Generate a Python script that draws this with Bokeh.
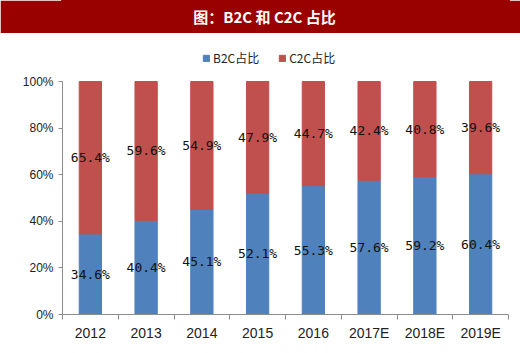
from bokeh.plotting import figure
from bokeh.models import (ColumnDataSource, Range1d, FixedTicker, PrintfTickFormatter,
                          Legend, LegendItem)
from bokeh.layouts import column
from bokeh.core.properties import value
from bokeh.embed import file_html
from bokeh.resources import INLINE

title = "图：B2C 和 C2C 占比"
categories = ["2012", "2013", "2014", "2015", "2016", "2017E", "2018E", "2019E"]
b2c = [34.6, 40.4, 45.1, 52.1, 55.3, 57.6, 59.2, 60.4]
c2c = [65.4, 59.6, 54.9, 47.9, 44.7, 42.4, 40.8, 39.6]
series_names = ["B2C占比", "C2C占比"]

BLUE = "#4F81BD"
RED = "#C0504D"
BAR_RED = "#990000"

xs = [i + 1 for i in range(len(categories))]
top_c2c = [b + c for b, c in zip(b2c, c2c)]
src = ColumnDataSource(dict(
    x=xs, b2c=b2c, c2c=c2c, top=top_c2c,
    ymid_b=[b / 2 for b in b2c],
    ymid_c=[b + c / 2 for b, c in zip(b2c, c2c)],
    lab_b=[f"{v:.1f}%" for v in b2c],
    lab_c=[f"{v:.1f}%" for v in c2c],
))

# title bar (frame aligned with the chart below, x in page pixels)
t = figure(width=520, height=33, x_range=Range1d(62, 508), y_range=Range1d(0, 33),
           toolbar_location=None, output_backend="svg",
           min_border_left=62, min_border_right=12,
           min_border_top=0, min_border_bottom=0,
           x_axis_location=None, y_axis_location=None,
           background_fill_color=BAR_RED, border_fill_color=BAR_RED,
           outline_line_color=BAR_RED, outline_line_width=3)
t.grid.visible = False
t.text(x=[264], y=[17.5], text=[title], text_color="white",
       text_font=value("Noto Sans CJK SC"), text_font_style="bold",
       text_font_size="15px", text_align="center", text_baseline="middle")

FRAME_H = 270          # pixels of frame
PLOT_H = 233           # pixels for 0..100%
y_top = 100 * FRAME_H / PLOT_H

p = figure(width=520, height=320, x_range=Range1d(0.5, 8.5), y_range=Range1d(0, y_top),
           toolbar_location=None, output_backend="svg",
           min_border_left=62, min_border_right=12, min_border_top=11,
           min_border_bottom=39, outline_line_color=None)
p.grid.visible = False

r_b = p.vbar(x="x", bottom=0, top="b2c", width=0.4, color=BLUE, source=src)
r_c = p.vbar(x="x", bottom="b2c", top="top", width=0.4, color=RED, source=src)

for col_y, col_t in (("ymid_b", "lab_b"), ("ymid_c", "lab_c")):
    p.text(x="x", y=col_y, text=col_t, source=src, text_align="center",
           text_baseline="middle", text_font=value("DejaVu Sans Mono"),
           text_font_size="13px", text_color="#111111")

axis_col = "#8C8C8C"
p.xaxis.ticker = FixedTicker(ticks=xs, minor_ticks=[x - 0.5 for x in xs] + [xs[-1] + 0.5])
p.xaxis.major_label_overrides = {x: c for x, c in zip(xs, categories)}
p.xaxis.major_tick_line_color = None
p.xaxis.minor_tick_in = 0
p.xaxis.minor_tick_out = 5
p.xaxis.minor_tick_line_color = axis_col
p.xaxis.axis_line_color = axis_col
p.xaxis.major_label_text_font_size = "14px"
p.xaxis.major_label_standoff = 4
p.xaxis.major_label_text_font = "Liberation Sans"
p.xaxis.major_label_text_color = "#222222"

p.yaxis.ticker = FixedTicker(ticks=[0, 20, 40, 60, 80, 100])
p.yaxis.bounds = (0, 100)
p.yaxis.formatter = PrintfTickFormatter(format="%d%%")
p.yaxis.minor_tick_line_color = None
p.yaxis.major_tick_in = 0
p.yaxis.major_tick_out = 4
p.yaxis.major_tick_line_color = axis_col
p.yaxis.axis_line_color = axis_col
p.yaxis.major_label_text_font_size = "12px"
p.yaxis.major_label_text_font = "Liberation Sans"
p.yaxis.major_label_text_color = "#222222"

legend = Legend(items=[LegendItem(label=series_names[0], renderers=[r_b]),
                       LegendItem(label=series_names[1], renderers=[r_c])],
                orientation="horizontal", location=(140, FRAME_H - 22),
                glyph_width=8, glyph_height=8, label_standoff=3, spacing=19,
                padding=0, margin=0, border_line_color=None,
                background_fill_alpha=0, label_height=16,
                label_text_font="Noto Sans CJK SC",
                label_text_font_size="12px", label_text_color="#222222")
p.add_layout(legend, "center")

layout = column(t, p, spacing=0)
open("out.html", "w").write(file_html(layout, INLINE))
